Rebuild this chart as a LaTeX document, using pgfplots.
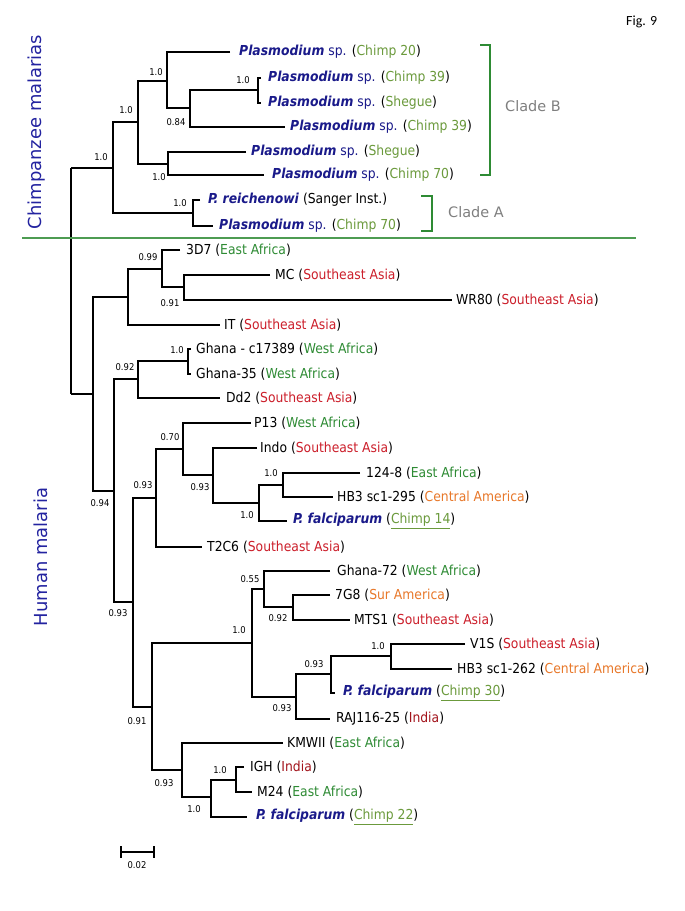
\documentclass[border=0pt]{standalone}
\usepackage{pgfplots}
\pgfplotsset{compat=1.18}
\usepackage{fontspec}
\setmainfont{DejaVu Sans}
\newfontfamily\cond{DejaVu Sans Condensed}
\newfontfamily\figfont{Carlito}
\definecolor{pblue}{HTML}{1A1A8A}
\definecolor{olive}{HTML}{6B9A3C}
\definecolor{rgreen}{HTML}{2E8B34}
\definecolor{rred}{HTML}{CC1F2B}
\definecolor{ired}{HTML}{A3141C}
\definecolor{rorange}{HTML}{E8782A}
\definecolor{cgray}{HTML}{7F7F7F}
\definecolor{vblue}{HTML}{2323A0}
\newcommand\pl{\textcolor{pblue}{\textbf{\textit{Plasmodium}} sp.}}
\newcommand\pf{\textcolor{pblue}{\textbf{\textit{P. falciparum}}}}
\newcommand\ol[1]{(\textcolor{olive}{#1})}
\newcommand\olu[1]{(\textcolor{olive}{\underline{#1}})}
\newcommand\gr[1]{(\textcolor{rgreen}{#1})}
\newcommand\rd[1]{(\textcolor{rred}{#1})}
\newcommand\ind[1]{(\textcolor{ired}{#1})}
\newcommand\orr[1]{(\textcolor{rorange}{#1})}
\tikzset{
  leaf/.style={anchor=west, inner sep=0pt, font=\cond\fontsize{13.8}{15}\selectfont},
  bs/.style={inner sep=0pt, font=\cond\fontsize{9.4}{10}\selectfont},
}
\begin{document}
\begin{tikzpicture}
\begin{axis}[
  width=685bp, height=911bp, scale only axis,
  xmin=0, xmax=685, ymin=0, ymax=911, y dir=reverse,
  axis lines=none, ticks=none, clip=false,
  axis background/.style={fill=white},
  tree/.style={black, line width=2.8bp, line join=miter, line cap=butt, no marks},
  brk/.style={rgreen, line width=2.8bp, line join=miter, no marks},
]
% ---- chimpanzee clade ----
\addplot[tree] coordinates {(71,168) (71,394)};
\addplot[tree] coordinates {(113,168) (71,168)};
\addplot[tree] coordinates {(71,394) (93,394)};
\addplot[tree] coordinates {(138,122) (113,122) (113,213) (193,213)};
\addplot[tree] coordinates {(167,81) (138,81) (138,164) (168,164)};
\addplot[tree] coordinates {(230,52) (167,52) (167,108) (190,108)};
\addplot[tree] coordinates {(258,90) (190,90) (190,127) (285,127)};
\addplot[tree] coordinates {(261,78) (258,78) (258,103) (261,103)};
\addplot[tree] coordinates {(246,152) (168,152) (168,175) (264,175)};
\addplot[tree] coordinates {(200,200) (193,200) (193,226) (213,226)};
% ---- human clade ----
\addplot[tree] coordinates {(128,297) (93,297) (93,491) (114,491)};
\addplot[tree] coordinates {(162,269) (128,269) (128,325) (220,325)};
\addplot[tree] coordinates {(180,250) (162,250) (162,287) (184,287)};
\addplot[tree] coordinates {(270,275) (184,275) (184,300) (452,300)};
\addplot[tree] coordinates {(138,379) (114,379) (114,602) (133,602)};
\addplot[tree] coordinates {(188,361) (138,361) (138,398) (220,398)};
\addplot[tree] coordinates {(191,349) (188,349) (188,374) (191,374)};
\addplot[tree] coordinates {(156,498) (133,498) (133,707) (152,707)};
\addplot[tree] coordinates {(183,449) (156,449) (156,547) (202,547)};
\addplot[tree] coordinates {(251,423) (183,423) (183,475) (213,475)};
\addplot[tree] coordinates {(257,448) (213,448) (213,503) (259,503)};
\addplot[tree] coordinates {(283,485) (259,485) (259,521) (287,521)};
\addplot[tree] coordinates {(360,473) (283,473) (283,497) (333,497)};
\addplot[tree] coordinates {(252,643) (152,643) (152,770) (182,770)};
\addplot[tree] coordinates {(264,589) (252,589) (252,697) (296,697)};
\addplot[tree] coordinates {(330,571) (264,571) (264,607) (293,607)};
\addplot[tree] coordinates {(330,595) (293,595) (293,620) (350,620)};
\addplot[tree] coordinates {(331,674) (296,674) (296,719) (330,719)};
\addplot[tree] coordinates {(391,656) (331,656) (331,693) (335,693)};
\addplot[tree] coordinates {(465,644) (391,644) (391,669) (452,669)};
\addplot[tree] coordinates {(283,743) (182,743) (182,797) (211,797)};
\addplot[tree] coordinates {(236,780) (211,780) (211,817) (247,817)};
\addplot[tree] coordinates {(244,767) (236,767) (236,792) (252,792)};
% ---- brackets, separator, scale bar ----
\addplot[brk] coordinates {(480,45) (490,45) (490,175) (480,175)};
\addplot[brk] coordinates {(421,196) (432,196) (432,231) (421,231)};
\addplot[color=rgreen!85!white, line width=1.6bp, no marks] coordinates {(22,238) (636,238)};
\addplot[black, line width=2.2bp, no marks] coordinates {(121,852) (154,852)};
\addplot[black, line width=2.2bp, no marks] coordinates {(121,846) (121,858)};
\addplot[black, line width=2.2bp, no marks] coordinates {(154,846) (154,858)};

% ---- leaf labels ----
\node[leaf] at (axis cs:239,52) {\pl{} \ol{Chimp 20}};
\node[leaf] at (axis cs:268,78) {\pl{} \ol{Chimp 39}};
\node[leaf] at (axis cs:268,103) {\pl{} \ol{Shegue}};
\node[leaf] at (axis cs:290,127) {\pl{} \ol{Chimp 39}};
\node[leaf] at (axis cs:251,152) {\pl{} \ol{Shegue}};
\node[leaf] at (axis cs:272,175) {\pl{} \ol{Chimp 70}};
\node[leaf] at (axis cs:208,200) {\textcolor{pblue}{\textbf{\textit{P. reichenowi}}} (Sanger Inst.)};
\node[leaf] at (axis cs:219,226) {\pl{} \ol{Chimp 70}};
\node[leaf] at (axis cs:186,250) {3D7 \gr{East Africa}};
\node[leaf] at (axis cs:275,275) {MC \rd{Southeast Asia}};
\node[leaf] at (axis cs:456,300) {WR80 \rd{Southeast Asia}};
\node[leaf] at (axis cs:224,325) {IT \rd{Southeast Asia}};
\node[leaf] at (axis cs:196,349) {Ghana - c17389 \gr{West Africa}};
\node[leaf] at (axis cs:196,374) {Ghana-35 \gr{West Africa}};
\node[leaf] at (axis cs:226,398) {Dd2 \rd{Southeast Asia}};
\node[leaf] at (axis cs:254,423) {P13 \gr{West Africa}};
\node[leaf] at (axis cs:260,448) {Indo \rd{Southeast Asia}};
\node[leaf] at (axis cs:366,473) {124-8 \gr{East Africa}};
\node[leaf] at (axis cs:337,497) {HB3 sc1-295 \orr{Central America}};
\node[leaf] at (axis cs:293,521) {\pf{} \olu{Chimp 14}};
\node[leaf] at (axis cs:207,547) {T2C6 \rd{Southeast Asia}};
\node[leaf] at (axis cs:337,571) {Ghana-72 \gr{West Africa}};
\node[leaf] at (axis cs:335,595) {7G8 \orr{Sur America}};
\node[leaf] at (axis cs:354,620) {MTS1 \rd{Southeast Asia}};
\node[leaf] at (axis cs:470,644) {V1S \rd{Southeast Asia}};
\node[leaf] at (axis cs:457,669) {HB3 sc1-262 \orr{Central America}};
\node[leaf] at (axis cs:343,693) {\pf{} \olu{Chimp 30}};
\node[leaf] at (axis cs:336,719) {RAJ116-25 \ind{India}};
\node[leaf] at (axis cs:287,743) {KMWII \gr{East Africa}};
\node[leaf] at (axis cs:250,767) {IGH \ind{India}};
\node[leaf] at (axis cs:257,792) {M24 \gr{East Africa}};
\node[leaf] at (axis cs:256,817) {\pf{} \olu{Chimp 22}};

% ---- support values ----
\node[bs] at (axis cs:101,157) {1.0};
\node[bs] at (axis cs:126,110) {1.0};
\node[bs] at (axis cs:156,72) {1.0};
\node[bs] at (axis cs:243,80) {1.0};
\node[bs] at (axis cs:176,122) {0.84};
\node[bs] at (axis cs:159,177) {1.0};
\node[bs] at (axis cs:180,203) {1.0};
\node[bs] at (axis cs:148,257) {0.99};
\node[bs] at (axis cs:170,303) {0.91};
\node[bs] at (axis cs:100,503) {0.94};
\node[bs] at (axis cs:125,367) {0.92};
\node[bs] at (axis cs:177,350) {1.0};
\node[bs] at (axis cs:118,613) {0.93};
\node[bs] at (axis cs:143,485) {0.93};
\node[bs] at (axis cs:170,437) {0.70};
\node[bs] at (axis cs:200,487) {0.93};
\node[bs] at (axis cs:247,515) {1.0};
\node[bs] at (axis cs:271,473) {1.0};
\node[bs] at (axis cs:137,721) {0.91};
\node[bs] at (axis cs:239,630) {1.0};
\node[bs] at (axis cs:250,579) {0.55};
\node[bs] at (axis cs:278,618) {0.92};
\node[bs] at (axis cs:282,708) {0.93};
\node[bs] at (axis cs:314,664) {0.93};
\node[bs] at (axis cs:378,646) {1.0};
\node[bs] at (axis cs:164,783) {0.93};
\node[bs] at (axis cs:194,809) {1.0};
\node[bs] at (axis cs:220,770) {1.0};
\node[bs] at (axis cs:137,865) {0.02};

% ---- other text ----
\node[anchor=west, inner sep=0pt, text=cgray, font=\fontsize{14.5}{16}\selectfont] at (axis cs:505,106) {Clade B};
\node[anchor=west, inner sep=0pt, text=cgray, font=\fontsize{14.5}{16}\selectfont] at (axis cs:448,212) {Clade A};
\node[anchor=west, inner sep=0pt, font=\figfont\fontsize{14}{16}\selectfont] at (axis cs:626,22) {Fig. 9};
\node[rotate=90, inner sep=0pt, text=vblue, font=\fontsize{18}{20}\selectfont] at (axis cs:37,132) {Chimpanzee malarias};
\node[rotate=90, inner sep=0pt, text=vblue, font=\fontsize{18}{20}\selectfont] at (axis cs:41,557) {Human malaria};
\end{axis}
\end{tikzpicture}
\end{document}
